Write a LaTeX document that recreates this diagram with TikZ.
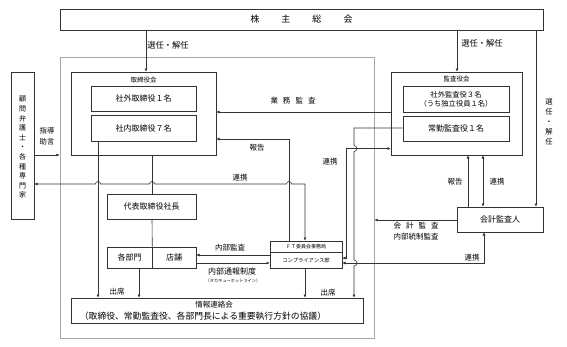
\documentclass[tikz,border=0pt]{standalone}
\usepackage{fontspec}
\setmainfont{Noto Sans CJK JP}
\usetikzlibrary{arrows.meta}
\newcommand\fsz[2]{\fontsize{#1}{#2}\selectfont}
\begin{document}
\begin{tikzpicture}[x=1pt,y=-1pt,
  box/.style={draw=black!80, line width=0.6pt, inner sep=0pt, align=center, font=\fsz{8}{9.5}},
  ln/.style={draw=black!80, line width=0.6pt},
  arr/.style={ln, -{Latex[length=3.2pt,width=3pt]}},
  barr/.style={ln, {Latex[length=3.2pt,width=3pt]}-{Latex[length=3.2pt,width=3pt]}},
  lbl/.style={inner sep=0pt, align=center, font=\fsz{7.5}{9}},
]
\useasboundingbox (0,0) rectangle (567,346);
% outer frame
\node[draw=black!35, line width=0.8pt, inner sep=0pt, minimum width=314pt, minimum height=281pt] (outer) at (217,197.5) {};
% boxes
\node[box, minimum width=483pt, minimum height=21pt] (soukai) at (301.5,19.5) {\fsz{9}{11}株\hspace{22pt}主\hspace{22pt}総\hspace{22pt}会};
\node[box, minimum width=145pt, minimum height=83pt] (tori) at (143.5,113.5) {};
\node[lbl, font=\fsz{6.5}{8}] (toriT) at (143.5,80) {取締役会};
\node[box, minimum width=105pt, minimum height=25pt] (shagai) at (143.5,98.5) {社外取締役１名};
\node[box, minimum width=105pt, minimum height=26pt] (shanai) at (143.5,128) {社内取締役７名};
\node[box, minimum width=23pt, minimum height=147pt] (komon) at (22.5,145.5) {};
\node[lbl, font=\fsz{7}{9.6}] (komonT) at (22.5,147.5) {顧\\問\\弁\\護\\士\\・\\各\\種\\専\\門\\家};
\node[box, minimum width=89pt, minimum height=25pt] (daihyo) at (151.5,206.5) {代表取締役社長};
\node[box, minimum width=45pt, minimum height=21pt] (bumon) at (129.5,257.5) {各部門};
\node[box, minimum width=44pt, minimum height=21pt] (tenpo) at (174,257.5) {店舗};
\node[box, minimum width=292pt, minimum height=25pt] (joho) at (217,310.5) {};
\node[lbl, font=\fsz{7.5}{9}] (johoT1) at (214,305) {情報連絡会};
\node[lbl, font=\fsz{8.8}{10}] (johoT2) at (203,316.5) {（取締役、常勤監査役、各部門長による重要執行方針の協議）};
\node[box, minimum width=72pt, minimum height=11pt, font=\fsz{5}{6}] (ft1) at (306,246.5) {ＦＴ委員会事務局};
\node[box, minimum width=72pt, minimum height=16pt, font=\fsz{5.3}{6}] (ft2) at (306,260) {コンプライアンス部};
\node[box, minimum width=131pt, minimum height=83pt] (kansa) at (456.5,113.5) {};
\node[lbl, font=\fsz{6.5}{8}] (kansaT) at (456.5,79.5) {監査役会};
\node[box, minimum width=106pt, minimum height=26pt, font=\fsz{7.3}{9}] (shagaik) at (456,99) {社外監査役３名\\（うち独立役員１名）};
\node[box, minimum width=106pt, minimum height=25pt] (jokin) at (456,128.5) {常勤監査役１名};
\node[box, minimum width=86pt, minimum height=25pt] (kaikei) at (500,219.5) {会計監査人};
% connectors
\draw[arr] (soukai.south -| 146,0) -- (tori.north -| 146,0);
\draw[arr] (soukai.south -| 457,0) -- (kansa.north -| 457,0);
\draw[arr] (soukai.south -| 536,0) -- (kaikei.north -| 536,0);
\draw[arr] (komon.east |- 0,155) -- (outer.west |- 0,155);
\draw[arr] (kansa.west |- 0,112) -- (tori.east |- 0,112);
\draw[arr] (ft1.north -| 289,0) -- (289,139) -- (tori.east |- 0,139);
\draw[barr] (komon.east |- 0,184) -- (95.5,184) arc[start angle=180,end angle=360,radius=2.5]
  -- (149.5,184) arc[start angle=180,end angle=360,radius=2.5]
  -- (286.5,184) arc[start angle=180,end angle=360,radius=2.5]
  -- (305,184) -- (ft1.north -| 305,0);
\draw[ln] (tori.south -| 152,0) -- (daihyo.north -| 152,0);
\draw[ln] (daihyo.south -| 152,0) -- (bumon.north east);
\draw[arr] (shanai.south -| 98,0) -- (joho.north -| 98,0);
\draw[arr] (bumon.south -| 139,0) -- (joho.north -| 139,0);
\draw[arr] (ft2.south -| 305,0) -- (joho.north -| 305,0);
\draw[arr] (jokin.west |- 0,128) -- (354,128) -- (354,145.5) arc[start angle=-90,end angle=90,radius=3]
  -- (354,260) arc[start angle=-90,end angle=90,radius=3] -- (joho.north -| 354,0);
\draw[arr] (ft2.west |- 0,255) -- (tenpo.east |- 0,255);
\draw[arr] (tenpo.east |- 0,263) -- (ft2.west |- 0,263);
\draw[barr] (ft2.east |- 0,258) -- (346,258) -- (346,148.5) -- (kansa.west |- 0,148.5);
\draw[barr] (ft2.east |- 0,263) -- (484,263) -- (kaikei.south -| 484,0);
\draw[arr] (kaikei.west |- 0,220) -- (outer.east |- 0,220);
\draw[arr] (kaikei.north -| 468,0) -- (kansa.south -| 468,0);
\draw[barr] (kaikei.north -| 483,0) -- (kansa.south -| 483,0);
% labels
\node[lbl, font=\fsz{8.3}{9}] (l1) at (168,45) {選任・解任};
\node[lbl, font=\fsz{8.3}{9}] (l2) at (482,43) {選任・解任};
\node[lbl, font=\fsz{7.3}{10}] (l3) at (549,122) {選\\任\\・\\解\\任};
\node[lbl] (l4) at (293,101) {業\hspace{5pt}務\hspace{5pt}監\hspace{5pt}査};
\node[lbl] (l5) at (257,148) {報告};
\node[lbl] (l6) at (240,178) {連携};
\node[lbl, font=\fsz{7.3}{11}] (l7) at (47,136.5) {指導\\助言};
\node[lbl] (l8) at (330,162) {連携};
\node[lbl] (l9) at (455,182) {報告};
\node[lbl] (l10) at (497,182) {連携};
\node[lbl] (l11) at (416,226) {会\hspace{5pt}計\hspace{5pt}監\hspace{5pt}査};
\node[lbl] (l12) at (416,237) {内部統制監査};
\node[lbl] (l13) at (472,258) {連携};
\node[lbl] (l14) at (230,248) {内部監査};
\node[lbl, font=\fsz{8}{9}] (l15) at (232,271) {内部通報制度};
\node[lbl, font=\fsz{4.2}{5}] (l16) at (233,280.5) {（タカキューホットライン）};
\node[lbl] (l17) at (117,292) {出席};
\node[lbl] (l18) at (328,293) {出席};
\end{tikzpicture}
\end{document}
